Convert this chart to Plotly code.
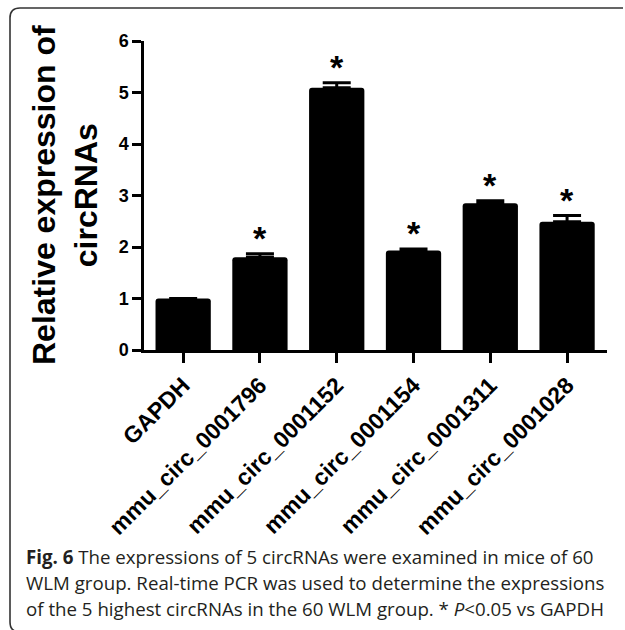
import plotly.graph_objects as go

categories = ["GAPDH", "mmu_circ_0001796", "mmu_circ_0001152",
              "mmu_circ_0001154", "mmu_circ_0001311", "mmu_circ_0001028"]
expression = [1.0, 1.80, 5.09, 1.93, 2.85, 2.49]
sem = [0.0, 0.07, 0.10, 0.03, 0.05, 0.12]
significant = [False, True, True, True, True, True]
y_ticks = [0, 1, 2, 3, 4, 5, 6]
y_title_lines = ["Relative expression of", "circRNAs"]
caption_lines = [
    "<b>Fig. 6</b> The expressions of 5 circRNAs were examined in mice of 60",
    "WLM group. Real-time PCR was used to determine the expressions",
    "of the 5 highest circRNAs in the 60 WLM group. * <i>P</i>&lt;0.05 vs GAPDH",
]

W, H = 625, 630
ML, MR, MT, MB = 144, 18, 41, 280
PW = W - ML - MR
PH = H - MT - MB


def px2x(px):
    return (px - ML) / PW


def px2y(py):
    return (H - MB - py) / PH


FONT = "Liberation Sans, Arial, sans-serif"
CAP_FONT = "Open Sans, Noto Sans, sans-serif"

err_plus = [e if e > 0 else None for e in sem]

fig = go.Figure()
fig.add_trace(go.Bar(
    x=list(range(len(categories))),
    y=expression,
    width=0.72,
    marker=dict(color="black", line=dict(width=0), cornerradius=3),
    error_y=dict(type="data", array=err_plus, arrayminus=[0] * len(sem),
                 symmetric=False, visible=True, color="black",
                 thickness=3, width=14),
    showlegend=False,
    hoverinfo="skip",
))

annotations = []
for i, (v, e, s) in enumerate(zip(expression, sem, significant)):
    if s:
        annotations.append(dict(
            x=i, y=v + e, xref="x", yref="y", text="<b>*</b>",
            showarrow=False, yanchor="bottom", yshift=-5,
            font=dict(family=FONT, size=34, color="black"),
        ))

annotations.append(dict(
    x=px2x(65), y=px2y(195), xref="paper", yref="paper",
    text="<br>".join(y_title_lines), textangle=-90, showarrow=False,
    xanchor="center", yanchor="middle",
    font=dict(family=FONT, size=32, color="black", weight="bold"),
))

baselines = [562, 588, 614]
for line, b in zip(caption_lines, baselines):
    annotations.append(dict(
        x=px2x(24), y=px2y(b - 6), xref="paper", yref="paper",
        text=line, showarrow=False, xanchor="left", yanchor="middle",
        font=dict(family=CAP_FONT, size=18.7, color="#231f20"),
    ))

# rounded frame (only top and left visible; right and bottom run off the page)
x0, y0, r = 10, 8, 10
xr, yb = W - 2, 632
path = (f"M {px2x(xr)},{px2y(y0)} L {px2x(x0 + r)},{px2y(y0)} "
        f"Q {px2x(x0)},{px2y(y0)} {px2x(x0)},{px2y(y0 + r)} "
        f"L {px2x(x0)},{px2y(yb - r)} "
        f"Q {px2x(x0)},{px2y(yb)} {px2x(x0 + r)},{px2y(yb)}")

fig.update_layout(
    width=W, height=H,
    margin=dict(l=ML, r=MR, t=MT, b=MB, autoexpand=False),
    paper_bgcolor="white", plot_bgcolor="white",
    annotations=annotations,
    shapes=[dict(type="path", path=path, xref="paper", yref="paper",
                 line=dict(color="#333333", width=1.6))],
    xaxis=dict(
        range=[-0.51, 5.52], tickmode="array",
        tickvals=list(range(len(categories))), ticktext=categories,
        tickangle=-45, showline=True, linecolor="black", linewidth=2.5,
        ticks="outside", ticklen=10, tickwidth=2.5, tickcolor="black",
        showgrid=False, zeroline=False, automargin=False,
        tickfont=dict(family=FONT, size=23, color="black", weight="bold"),
    ),
    yaxis=dict(
        range=[0, 6], tickmode="array", tickvals=y_ticks,
        showline=True, linecolor="black", linewidth=2.5,
        ticks="outside", ticklen=9, tickwidth=2.5, tickcolor="black",
        showgrid=False, zeroline=False, automargin=False,
        tickfont=dict(family=FONT, size=18, color="black", weight="bold"),
    ),
)

fig.write_html(
    "out.html",
    config={"displayModeBar": False},
    post_script="document.body.style.margin='0';"
                "document.body.style.overflow='hidden';",
)
